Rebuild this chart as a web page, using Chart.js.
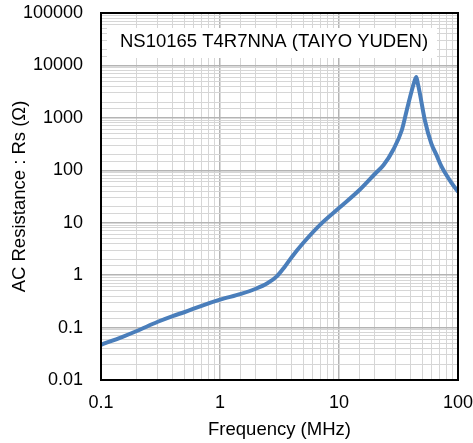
<!DOCTYPE html>
<html>
<head>
<meta charset="utf-8">
<script src="https://cdn.jsdelivr.net/npm/chart.js@4.4.0/dist/chart.umd.min.js"></script>
<style>
  html, body { margin: 0; padding: 0; background: #fff; }
  #wrap { width: 473px; height: 443px; }
</style>
</head>
<body>
<div id="wrap"><canvas id="rsChart" width="473" height="443"></canvas></div>
<script>
const frequencies = [0.1, 0.15, 0.2, 0.3, 0.4, 0.5, 0.7, 1, 1.5, 2, 2.5, 3, 3.5, 4, 5, 7, 10, 15, 20, 23.7, 28.5, 33.7, 37.1, 41, 43, 44.6, 46, 47.8, 52.6, 59.6, 66, 72.8, 88.8, 100];
const resistances = [0.047, 0.066, 0.086, 0.129, 0.166, 0.196, 0.26, 0.34, 0.44, 0.55, 0.7, 0.95, 1.45, 2.2, 4.1, 9.3, 19, 43, 85, 126, 244, 580, 1400, 3400, 4900, 6000, 4500, 2940, 910, 327, 195, 117, 56, 39];

// Decade ticks that carry a label
const xTickLabels = [0.1, 1, 10, 100];
const yTickLabels = [0.01, 0.1, 1, 10, 100, 1000, 10000, 100000];

const chartTitle = "NS10165 T4R7NNA (TAIYO YUDEN)";
const FONT = "'Liberation Sans', Arial, sans-serif";

const isDecade = (v, list) => list.some((d) => Math.abs(v / d - 1) < 1e-6);

const gridStyle = (list) => ({
  drawTicks: false,
  color: (ctx) => (ctx.tick && isDecade(ctx.tick.value, list) ? "#b4b4b4" : "#d6d6d6"),
  lineWidth: (ctx) => (ctx.tick && isDecade(ctx.tick.value, list) ? 1.5 : 1),
});

// Black frame round the plot and the title box inside it
const framePlugin = {
  id: "frame",
  beforeDatasetsDraw(chart) {
    const { ctx, chartArea } = chart;
    ctx.save();
    ctx.fillStyle = "#fff";
    ctx.fillRect(chartArea.left + 6, chartArea.top + 15, 330, 30);
    ctx.fillStyle = "#000";
    ctx.font = `18.5px ${FONT}`;
    ctx.textAlign = "left";
    ctx.textBaseline = "middle";
    ctx.fillText(chartTitle, chartArea.left + 19, chartArea.top + 29);
    ctx.restore();
  },
  afterDraw(chart) {
    const { ctx, chartArea } = chart;
    ctx.save();
    ctx.strokeStyle = "#000";
    ctx.lineWidth = 2;
    ctx.strokeRect(chartArea.left, chartArea.top, chartArea.right - chartArea.left, chartArea.bottom - chartArea.top);
    ctx.restore();
  },
};

new Chart(document.getElementById("rsChart"), {
  type: "line",
  data: {
    labels: frequencies,
    datasets: [
      {
        data: frequencies.map((f, i) => ({ x: f, y: resistances[i] })),
        borderColor: "#4a7ebb",
        borderWidth: 4,
        pointRadius: 0,
        cubicInterpolationMode: "monotone",
        fill: false,
      },
    ],
  },
  options: {
    responsive: false,
    animation: false,
    devicePixelRatio: 1,
    layout: { padding: { top: 13, right: 15, left: 0, bottom: 0 } },
    plugins: { legend: { display: false }, tooltip: { enabled: false } },
    scales: {
      x: {
        type: "logarithmic",
        min: 0.1,
        max: 100,
        afterFit: (s) => { s.height = 63; s.paddingLeft = 0; s.paddingRight = 0; },
        grid: gridStyle(xTickLabels),
        border: { display: false },
        ticks: {
          autoSkip: false,
          maxRotation: 0,
          padding: 12,
          color: "#000",
          font: { family: FONT, size: 18 },
          callback: (v) => (isDecade(v, xTickLabels) ? String(Number(v.toPrecision(1))) : ""),
        },
        title: {
          display: true,
          text: "Frequency (MHz)",
          color: "#000",
          font: { family: FONT, size: 18.5 },
          padding: { top: 2, bottom: 2 },
        },
      },
      y: {
        type: "logarithmic",
        min: 0.01,
        max: 100000,
        afterFit: (s) => { s.width = 101; s.paddingTop = 0; s.paddingBottom = 0; },
        grid: gridStyle(yTickLabels),
        border: { display: false },
        ticks: {
          autoSkip: false,
          padding: 18,
          color: "#000",
          font: { family: FONT, size: 18 },
          callback: (v) => (isDecade(v, yTickLabels) ? String(Number(v.toPrecision(1))) : ""),
        },
        title: {
          display: true,
          text: "AC Resistance : Rs (Ω)",
          color: "#000",
          font: { family: FONT, size: 18.5 },
          padding: { top: 9, bottom: 9 },
        },
      },
    },
  },
  plugins: [framePlugin],
});
</script>
</body>
</html>
